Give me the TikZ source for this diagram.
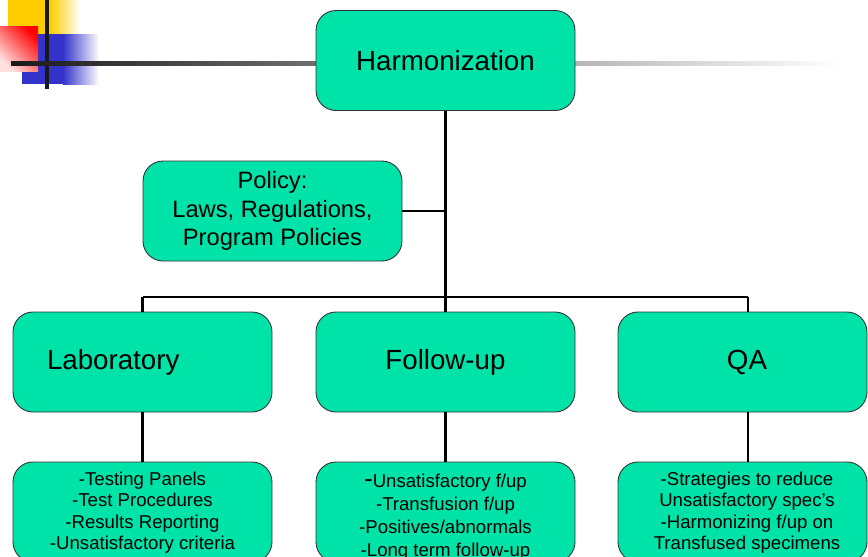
\documentclass[tikz,border=0pt]{standalone}
\usepackage{fontspec}
\setmainfont{Liberation Sans}
\definecolor{boxgreen}{RGB}{0,227,168}
\definecolor{decoyellow}{RGB}{255,204,0}
\definecolor{decoblue}{RGB}{51,51,204}
\definecolor{decored}{RGB}{255,0,0}
\begin{document}
\begin{tikzpicture}[x=1pt,y=-1pt,
  box/.style={draw=black!80, line width=0.9pt, fill=boxgreen, rounded corners=20pt,
    minimum width=259pt, minimum height=100pt, inner sep=0pt, align=center},
  bigtext/.style={font=\fontsize{27.7}{33}\selectfont},
  midtext/.style={font=\fontsize{23.7}{28.5}\selectfont},
  smalltext/.style={font=\fontsize{18.6}{21.5}\selectfont},
  conn/.style={line width=2.8pt, black}]
\useasboundingbox (0,0) rectangle (868,557);
\clip (0,0) rectangle (868,557);
% decoration
\fill[decoyellow] (8,0) rectangle (50,34);
\shade[left color=decoyellow, right color=white] (50,0) rectangle (80,34);
\fill[decoblue] (22,34) rectangle (63,84);
\shade[left color=decoblue, right color=white] (63,34) rectangle (99,84);
\shade[top color=decored, bottom color=decored!12, shading angle=-45] (0,26) rectangle (38,71);
\fill[black!90] (45,0) rectangle (49,89);
\shade[left color=black!90, middle color=black!30, right color=white] (11,61) rectangle (840,65);
% nodes
\node[box, bigtext] (harm) at (445.5,60.5) {Harmonization};
\node[box, midtext] (pol) at (272.5,211) {Policy:\\Laws, Regulations,\\Program Policies};
\node[box, bigtext, align=left, text width=191pt, inner xsep=34pt] (lab) at (142.5,362) {Laboratory};
\node[box, bigtext] (fu) at (445.5,362) {Follow-up};
\node[box, bigtext, minimum width=249pt] (qa) at (742.5,362) {\hspace*{9pt}QA};
\node[box] (labb) at (142.5,512) {};
\node[smalltext, align=center, inner sep=0pt] (labt) at (142.5,512.5) {-Testing Panels\\-Test Procedures\\-Results Reporting\\-Unsatisfactory criteria};
\node[box] (fub) at (445.5,512) {};
\node[font=\fontsize{18.6}{23}\selectfont, align=center, inner sep=0pt] (fut) at (445.5,517.5) {{\fontsize{26}{23}\selectfont -}Unsatisfactory f/up\\-Transfusion f/up\\-Positives/abnormals\\-Long term follow-up};
\node[box, minimum width=249pt] (qab) at (742.5,512) {};
\node[smalltext, align=center, inner sep=0pt] (qat) at (747,512.5) {-Strategies to reduce\\Unsatisfactory spec’s\\-Harmonizing f/up on\\Transfused specimens};
% connectors
\coordinate (br) at (445.5,297);
\coordinate (brl) at (142.5,297);
\coordinate (brr) at (748,297);
\coordinate (polj) at (445.5,211);
\coordinate (qatop) at (748,312);
\coordinate (qabot) at (748,412);
\coordinate (qabtop) at (748,462);
\draw[conn] (harm.south) -- (br);
\draw[conn] (pol.east) -- (polj);
\draw[conn] (brl) -- (brr);
\draw[conn] (brl) -- (lab.north);
\draw[conn] (br) -- (fu.north);
\draw[conn] (brr) -- (qatop);
\draw[conn] (lab.south) -- (labb.north);
\draw[conn] (fu.south) -- (fub.north);
\draw[conn] (qabot) -- (qabtop);
\end{tikzpicture}
\end{document}
